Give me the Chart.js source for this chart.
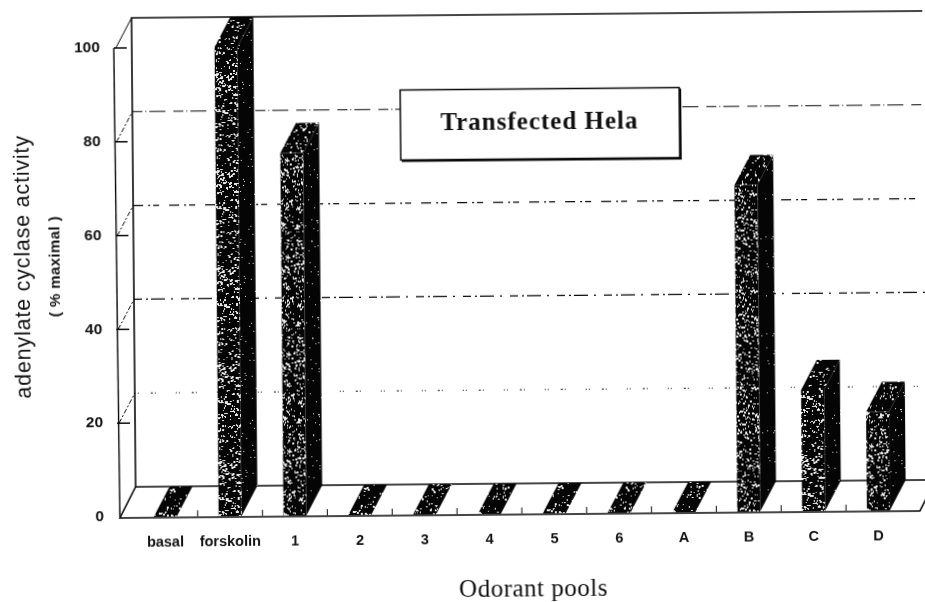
<!DOCTYPE html>
<html><head><meta charset="utf-8">
<style>
html,body{margin:0;padding:0;background:#fff;width:925px;height:602px;overflow:hidden}
#wrap{width:925px;height:602px;transform:rotate(-0.5deg);transform-origin:462px 301px}
canvas{display:block}
</style>
<script src="https://cdn.jsdelivr.net/npm/chart.js@4/dist/chart.umd.min.js"></script>
</head><body><div id="wrap"><canvas id="c" width="925" height="602"></canvas></div>
<script>
const categories = ['basal','forskolin','1','2','3','4','5','6','A','B','C','D'];
const activity = [0,100,77.3,0,0,0,0,0,0,69.6,25.8,21];
const yTicks = [0,20,40,60,80,100];
const yTitle = 'adenylate cyclase activity';
const ySubTitle = '( % maximal )';
const xTitle = 'Odorant pools';
const boxTitle = 'Transfected Hela';

const DX = 16, DY = -30, INK = '#0a0a0a';

function speckle(density, size) {
  const t = document.createElement('canvas'); t.width = t.height = 97;
  const g = t.getContext('2d');
  g.fillStyle = '#050505'; g.fillRect(0,0,97,97);
  g.fillStyle = '#e8e8e8';
  let s = 12345;
  const next = () => (s = (s * 1103515245 + 12345) & 0x7fffffff) / 0x7fffffff;
  for (let i = 0; i < density; i++) {
    const x = Math.floor(next()*97), y = Math.floor(next()*97);
    g.fillRect(x, y, next() > .6 ? size : 1, next() > .5 ? size : 1);
  }
  return g.createPattern(t, 'repeat');
}
const ctxMain = document.getElementById('c').getContext('2d');
const frontFill = speckle(950, 2);
const topFill = speckle(500, 2);
const sideFill = speckle(110, 1);

const gridDash = {
  20:[1,2,1,12,2,2,1,20],
  40:[8,4,2,3,14,6,2,8],
  60:[10,5,2,3,6,10],
  80:[10,3,1,3,16,8]
};

function vText(text, x, y, font, spacing) {
  const ctx = ctxMain;
  ctx.save();
  ctx.translate(x, y); ctx.rotate(-Math.PI/2);
  ctx.font = font; ctx.letterSpacing = spacing + 'px';
  ctx.textAlign = 'center'; ctx.textBaseline = 'alphabetic'; ctx.fillStyle = '#111';
  ctx.fillText(text, 0, 0);
  ctx.restore();
}

const depth3d = {
  id:'depth3d',
  beforeDatasetsDraw(chart){
    const {ctx, chartArea:a, scales:{x,y}} = chart;
    const y0 = y.getPixelForValue(0);
    const fl = a.left - 13, fr = 918;
    ctx.save();
    ctx.strokeStyle = INK; ctx.lineCap = 'butt';
    // grid lines on the back wall
    yTicks.forEach(v=>{
      if (v===0 || v===100) return;
      const p = y.getPixelForValue(v)+DY;
      ctx.lineWidth = 1.1; ctx.setLineDash(gridDash[v]);
      ctx.beginPath(); ctx.moveTo(fl+DX,p); ctx.lineTo(934,p); ctx.stroke();
    });
    ctx.setLineDash([]);
    // back wall frame
    const top = y.getPixelForValue(100)+DY;
    ctx.lineWidth = 1.6;
    ctx.beginPath(); ctx.moveTo(934,top); ctx.lineTo(fl+DX,top); ctx.lineTo(fl+DX,y0+DY); ctx.stroke();
    // left wall: front edge, ticks, diagonals
    ctx.lineWidth = 1.4;
    ctx.beginPath(); ctx.moveTo(fl-2,y.getPixelForValue(100)); ctx.lineTo(fl,y0); ctx.stroke();
    yTicks.forEach(v=>{
      const p = y.getPixelForValue(v);
      if (v>0){
        ctx.lineWidth = 1.5;
        ctx.beginPath(); ctx.moveTo(fl-2,p); ctx.lineTo(fl+11,p); ctx.stroke();
        ctx.lineWidth = 1;
        if (v<100) ctx.setLineDash([5,2,2,2]);
        ctx.beginPath(); ctx.moveTo(fl,p); ctx.lineTo(fl+DX,p+DY); ctx.stroke();
        ctx.setLineDash([]);
      }
    });
    // floor
    ctx.fillStyle = '#fff';
    ctx.beginPath(); ctx.moveTo(fl,y0); ctx.lineTo(fl+DX,y0+DY); ctx.lineTo(fr+DX,y0+DY); ctx.lineTo(fr,y0); ctx.closePath(); ctx.fill();
    ctx.lineWidth = 1.6;
    ctx.beginPath(); ctx.moveTo(fr+DX,y0+DY); ctx.lineTo(fr,y0+1); ctx.lineTo(fl,y0+1); ctx.lineTo(fl+DX,y0+DY); ctx.lineTo(fr+DX,y0+DY); ctx.stroke();
    // category ticks
    ctx.lineWidth = 1;
    for (let i=1;i<categories.length;i++){
      const t = (x.getPixelForValue(i-1)+x.getPixelForValue(i))/2;
      ctx.beginPath(); ctx.moveTo(t,y0); ctx.lineTo(t,y0-6); ctx.stroke();
    }
    // bar depth faces, from the library's bar elements
    chart.getDatasetMeta(0).data.forEach(b=>{
      const l=b.x-b.width/2, r=b.x+b.width/2, tp=b.y, bs=b.base;
      ctx.fillStyle = topFill;
      ctx.beginPath(); ctx.moveTo(l,tp); ctx.lineTo(l+DX,tp+DY); ctx.lineTo(r+DX,tp+DY); ctx.lineTo(r,tp); ctx.closePath(); ctx.fill();
      if (bs-tp>1){
        ctx.fillStyle = sideFill;
        ctx.beginPath(); ctx.moveTo(r,tp); ctx.lineTo(r+DX,tp+DY); ctx.lineTo(r+DX,bs+DY); ctx.lineTo(r,bs); ctx.closePath(); ctx.fill();
      }
    });
    ctx.restore();
  },
  afterDraw(chart){
    const {ctx} = chart;
    ctx.save();
    // annotation box
    const bx=402, by=89.5, bw=279, bh=70;
    ctx.fillStyle='#fff'; ctx.fillRect(bx,by,bw,bh);
    ctx.strokeStyle=INK; ctx.lineWidth=1.5; ctx.strokeRect(bx,by,bw,bh);
    ctx.lineWidth=2;
    ctx.beginPath(); ctx.moveTo(bx+bw+1,by+1); ctx.lineTo(bx+bw+1,by+bh+1); ctx.lineTo(bx+1,by+bh+1); ctx.stroke();
    ctx.fillStyle='#111'; ctx.textAlign='center'; ctx.textBaseline='middle';
    ctx.font='bold 25px "Liberation Serif"'; ctx.letterSpacing='1px';
    ctx.fillText(boxTitle,541,124);
    // x axis title
    ctx.font='25px "Liberation Serif"'; ctx.letterSpacing='0.5px';
    ctx.fillText(xTitle,531,590);
    ctx.letterSpacing='0px';
    ctx.restore();
    // y axis titles
    vText(yTitle,30,263,'21.5px "Liberation Sans"',0.8);
    vText(ySubTitle,60,263,'bold 15px "Liberation Sans"',0.4);
  }
};

new Chart(ctxMain,{
  type:'bar',
  data:{labels:categories,datasets:[{data:activity,backgroundColor:frontFill,borderWidth:0,
    barPercentage:0.354,categoryPercentage:1}]},
  plugins:[depth3d],
  options:{
    responsive:false,animation:false,
    layout:{padding:{top:45,right:16,left:10,bottom:6}},
    plugins:{legend:{display:false},tooltip:{enabled:false},title:{display:false}},
    scales:{
      x:{
        grid:{display:false},border:{display:false},
        afterFit(s){s.height=82;},
        ticks:{autoSkip:false,maxRotation:0,minRotation:0,padding:9,color:'#111',
          font:{family:'"Liberation Sans"',size:14.5,weight:'bold'}}
      },
      y:{
        min:0,max:100,
        grid:{display:false},border:{display:false},
        afterFit(s){s.width=121;},
        ticks:{stepSize:20,padding:21,color:'#111',
          font:{family:'"Liberation Sans"',size:15.5,weight:'bold'}}
      }
    }
  }
});
</script></body></html>
